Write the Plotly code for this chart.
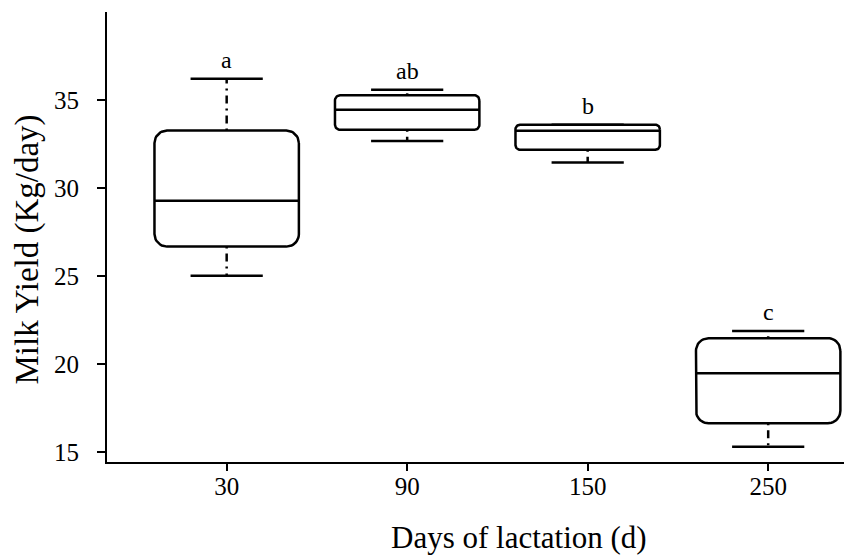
import numpy as np
import plotly.graph_objects as go

# ---------------- data ----------------
days = ["30", "90", "150", "250"]
whisker_low = [25.02, 32.67, 31.46, 15.32]
q1 = [26.68, 33.31, 32.18, 16.65]
median = [29.28, 34.45, 33.26, 19.49]
q3 = [33.27, 35.27, 33.60, 21.48]
whisker_high = [36.21, 35.59, 33.60, 21.89]
letters = ["a", "ab", "b", "c"]
y_ticks = [15, 20, 25, 30, 35]

# ---------------- layout / style ----------------
W, H = 844, 556
ml, mr, mt, mb = 107, 0, 12, 94
pw, ph = W - ml - mr, H - mt - mb
xr = [-0.663, 3.42]
yr = [14.45, 40.0]
sx = pw / (xr[1] - xr[0])   # px per x unit
sy = ph / (yr[1] - yr[0])   # px per y unit
box_half = 0.4
cap_half = 0.2
corner_px = [12.5, 5, 4.5, 12.5]
LW = 2.5
AXW = 2.2
FONT = "Liberation Serif"


def rounded_rect(xc, y0, y1, r_px):
    x0, x1 = xc - box_half, xc + box_half
    rx, ry = r_px / sx, r_px / sy
    xs, ys = [], []
    centers = [(x1 - rx, y1 - ry, 0), (x0 + rx, y1 - ry, 90),
               (x0 + rx, y0 + ry, 180), (x1 - rx, y0 + ry, 270)]
    for cx, cy, a0 in centers:
        t = np.radians(np.linspace(a0, a0 + 90, 12))
        xs.extend(cx + rx * np.cos(t))
        ys.extend(cy + ry * np.sin(t))
    xs.append(xs[0])
    ys.append(ys[0])
    return xs, ys


fig = go.Figure()
line_style = dict(color="black", width=LW)
for i, d in enumerate(days):
    # whiskers (dot-dash), drawn from box outward
    fig.add_trace(go.Scatter(x=[i, i], y=[q3[i], whisker_high[i]], mode="lines",
                             line=dict(color="black", width=LW, dash="2px,5px,8px,5px"),
                             hoverinfo="skip", showlegend=False))
    fig.add_trace(go.Scatter(x=[i, i], y=[q1[i], whisker_low[i]], mode="lines",
                             line=dict(color="black", width=LW, dash="2px,5px,8px,5px"),
                             hoverinfo="skip", showlegend=False))
    # caps
    for v in (whisker_high[i], whisker_low[i]):
        fig.add_trace(go.Scatter(x=[i - cap_half, i + cap_half], y=[v, v], mode="lines",
                                 line=line_style, hoverinfo="skip", showlegend=False))
    # box
    bx, by = rounded_rect(i, q1[i], q3[i], corner_px[i])
    fig.add_trace(go.Scatter(x=bx, y=by, mode="lines", line=line_style,
                             fill="toself", fillcolor="white",
                             hoverinfo="skip", showlegend=False))
    # median
    fig.add_trace(go.Scatter(x=[i - box_half, i + box_half], y=[median[i], median[i]],
                             mode="lines", line=line_style,
                             hoverinfo="skip", showlegend=False))
    # significance letters
    fig.add_annotation(x=i, y=whisker_high[i], text=letters[i], showarrow=False,
                       yanchor="middle", yshift=18.5,
                       font=dict(family=FONT, size=24, color="black"))

# axis titles as annotations (paper coords converted from px)
fig.add_annotation(x=(518.5 - ml) / pw, y=(H - mb - 537) / ph, xref="paper", yref="paper",
                   text="Days of lactation (d)", showarrow=False,
                   xanchor="center", yanchor="middle",
                   font=dict(family=FONT, size=31, color="black"))
fig.add_annotation(x=(26.5 - ml) / pw, y=(H - mb - 250) / ph, xref="paper", yref="paper",
                   text="Milk Yield (Kg/day)", showarrow=False, textangle=-90,
                   xanchor="center", yanchor="middle",
                   font=dict(family=FONT, size=33, color="black"))

fig.update_layout(
    width=W, height=H,
    margin=dict(l=ml, r=mr, t=mt, b=mb, pad=0),
    plot_bgcolor="white", paper_bgcolor="white",
    font=dict(family=FONT, color="black"),
    xaxis=dict(range=xr, tickmode="array", tickvals=list(range(len(days))), ticktext=days,
               showline=True, linecolor="black", linewidth=AXW,
               ticks="outside", ticklen=7, tickwidth=AXW, tickcolor="black",
               showgrid=False, zeroline=False, tickfont=dict(family=FONT, size=25),
               ticklabelstandoff=-6),
    yaxis=dict(range=yr, tickmode="array", tickvals=y_ticks,
               showline=True, linecolor="black", linewidth=AXW,
               ticks="outside", ticklen=8, tickwidth=AXW, tickcolor="black",
               showgrid=False, zeroline=False, tickfont=dict(family=FONT, size=25),
               ticklabelstandoff=13),
)

fig.write_html("out.html", config={"displayModeBar": False},
               post_script="document.body.style.margin='0';document.body.style.overflow='hidden';")
